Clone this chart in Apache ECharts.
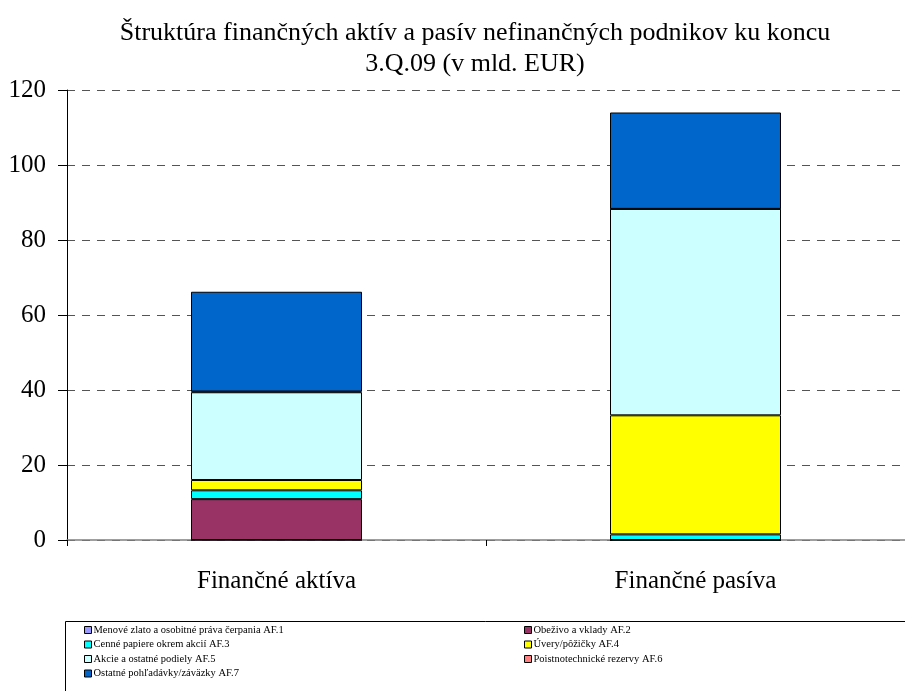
<!DOCTYPE html>
<html>
<head>
<meta charset="utf-8">
<script src="https://cdn.jsdelivr.net/npm/echarts@6/dist/echarts.min.js"></script>
<style>
  html, body { margin: 0; padding: 0; background: #fff; }
  #chart { width: 905px; height: 691px; }
</style>
</head>
<body>
<div id="chart"></div>
<script>
// kategórie a hodnoty (mld. EUR)
const categories = ['Finančné aktíva', 'Finančné pasíva']
const seriesNames = [
  'Menové zlato a osobitné práva čerpania AF.1',
  'Obeživo a vklady AF.2',
  'Cenné papiere okrem akcií AF.3',
  'Úvery/pôžičky AF.4',
  'Akcie a ostatné podiely AF.5',
  'Poistnotechnické rezervy AF.6',
  'Ostatné pohľadávky/záväzky AF.7'
]
const af1 = [0, 0]
const af2 = [10.9, 0]
const af3 = [2.35, 1.5]
const af4 = [2.75, 31.75]
const af5 = [23.4, 55.05]
const af6 = [0.2, 0]
const af7 = [26.6, 25.7]
const yTicks = [0, 20, 40, 60, 80, 100, 120]

const colors = ['#9999FF', '#993366', '#00FFFF', '#FFFF00', '#CCFFFF', '#FF8080', '#0066CC']
const values = [af1, af2, af3, af4, af5, af6, af7]
const font = 'Liberation Serif, Times New Roman, serif'

var myChart = echarts.init(document.getElementById('chart'))

const series = seriesNames.map((name, i) => ({
  name: name,
  type: 'bar',
  stack: 'total',
  barWidth: 171,
  itemStyle: {
    color: colors[i],
    borderColor: '#000',
    borderWidth: 1
  },
  data: values[i]
}))

const legendCommon = {
  orient: 'vertical',
  icon: 'rect',
  itemWidth: 7,
  itemHeight: 7,
  itemGap: 0.5,
  top: 623,
  itemStyle: { borderColor: '#000', borderWidth: 1 },
  textStyle: { fontFamily: font, fontSize: 10.5, color: '#000', lineHeight: 14, padding: [0, 0, 0, -3] },
  padding: 0
}

myChart.setOption({
  animation: false,
  title: {
    text: 'Štruktúra finančných aktív a pasív nefinančných podnikov ku koncu\n3.Q.09 (v mld. EUR)',
    left: 470,
    top: 13,
    textAlign: 'center',
    textStyle: {
      fontFamily: font,
      fontSize: 26,
      fontWeight: 'normal',
      color: '#000',
      lineHeight: 31
    }
  },
  legend: [
    Object.assign({}, legendCommon, {
      left: 84,
      data: [seriesNames[0], seriesNames[2], seriesNames[4], seriesNames[6]]
    }),
    Object.assign({}, legendCommon, {
      left: 524,
      data: [seriesNames[1], seriesNames[3], seriesNames[5]]
    })
  ],
  graphic: [
    {
      type: 'rect',
      shape: { x: 65.5, y: 621.5, width: 845, height: 80 },
      style: { fill: 'none', stroke: '#000', lineWidth: 1 },
      silent: true
    }
  ],
  grid: {
    left: 67,
    right: 0,
    top: 90,
    bottom: 151
  },
  xAxis: {
    type: 'category',
    data: categories,
    axisLine: { show: true, lineStyle: { color: '#808080', width: 1.5 } },
    axisTick: { show: true, alignWithLabel: false, length: 6, lineStyle: { color: '#000' } },
    axisLabel: {
      margin: 29,
      fontFamily: font,
      fontSize: 25,
      color: '#000'
    }
  },
  yAxis: {
    type: 'value',
    min: yTicks[0],
    max: yTicks[yTicks.length - 1],
    interval: 20,
    axisLine: { show: true, lineStyle: { color: '#000', width: 1 } },
    axisTick: { show: true, length: 9, lineStyle: { color: '#000' } },
    axisLabel: {
      margin: 21,
      fontFamily: font,
      fontSize: 25,
      color: '#000'
    },
    splitLine: {
      show: true,
      lineStyle: { color: '#555', type: [8, 7], width: 1 }
    }
  },
  series: series
})
</script>
</body>
</html>
